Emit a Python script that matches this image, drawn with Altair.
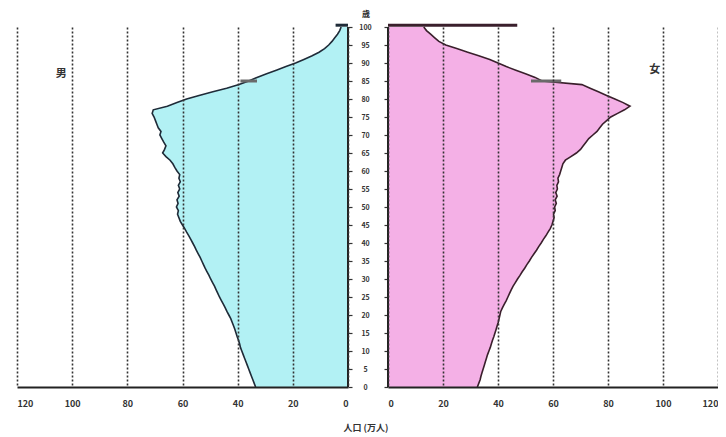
import altair as alt
import pandas as pd

# ---------------- data (population, 10k persons, by single year of age) ----------------
ages = list(range(0, 101))

male = [
    33.5, 34.0, 34.5, 35.0, 35.5, 36.0, 36.5, 37.0, 37.5, 38.0,
    38.5, 39.0, 39.3, 39.7, 40.2, 40.6, 41.0, 41.5, 42.0, 42.5,
    43.2, 43.9, 44.5, 45.2, 45.9, 46.6, 47.2, 47.8, 48.4, 49.1,
    49.8, 50.4, 51.1, 51.8, 52.4, 53.0, 53.6, 54.3, 55.0, 55.6,
    56.3, 57.0, 57.7, 58.5, 59.2, 60.0, 60.8, 61.3, 61.8, 61.5,
    62.2, 61.6, 62.0, 61.2, 61.7, 61.0, 61.5, 60.8, 61.3, 61.0,
    62.0, 62.8, 63.5, 64.5, 66.0, 67.2, 66.5, 66.0, 66.8, 67.5,
    68.2, 67.8, 68.8, 69.3, 69.8, 70.3, 71.0, 70.6, 65.5, 62.0,
    58.5, 54.0, 49.0, 44.0, 39.5, 36.0, 33.0, 29.5, 26.0, 22.5,
    19.0, 16.0, 13.0, 10.5, 8.5, 7.0, 5.8, 4.8, 3.8, 3.0,
    2.5,
]

female = [
    32.5, 33.0, 33.5, 33.8, 34.2, 34.6, 35.0, 35.4, 35.8, 36.2,
    36.7, 37.2, 37.6, 38.0, 38.5, 38.9, 39.3, 39.7, 40.1, 40.4,
    40.7, 41.0, 41.6, 42.3, 43.0, 43.6, 44.2, 44.8, 45.5, 46.3,
    47.1, 48.0, 48.8, 49.7, 50.5, 51.4, 52.2, 53.1, 54.0, 54.8,
    55.7, 56.5, 57.4, 58.2, 59.0, 59.6, 60.0, 60.4, 60.2, 60.8,
    60.6, 61.2, 60.8, 61.5, 61.0, 61.6, 61.4, 62.0, 61.8, 62.4,
    62.8, 63.2, 63.6, 64.5, 66.5, 68.5, 70.0, 71.0, 72.0, 73.0,
    74.5, 76.0, 77.0, 78.0, 79.5, 81.0, 83.5, 86.0, 88.0, 85.5,
    82.5, 79.5, 76.5, 73.5, 70.5, 56.0, 53.5, 50.0, 46.5, 43.0,
    40.0, 37.0, 33.0, 29.0, 25.0, 21.0, 18.5, 17.0, 15.5, 14.0,
    13.0,
]

male_100plus = 4.5
female_100plus = 47.0
male_85_bar = [33.0, 39.0]
female_85_bar = [52.0, 63.0]

x_ticks = [0, 20, 40, 60, 80, 100, 120]
age_ticks = list(range(0, 101, 5))

# ---------------- styling ----------------
FONT = "Noto Sans CJK JP"
CYAN = "#b2f1f4"
PINK = "#f4b0e6"
MALE_LINE = "#1f2b38"
FEMALE_LINE = "#3a1f2c"
W_L, W_R, H = 331, 330, 360

df_m = pd.DataFrame({"age": ages, "pop": male})
df_f = pd.DataFrame({"age": ages, "pop": female})

ys = alt.Scale(domain=[0, 100], nice=False, zero=False)
xs_m = alt.Scale(domain=[0, 120], reverse=True, nice=False)
xs_f = alt.Scale(domain=[0, 120], nice=False)

X_AXIS = alt.Axis(values=x_ticks, grid=True, gridDash=[2, 2], gridColor="#333",
                  gridWidth=1.6, domainColor="#222", domainWidth=2, ticks=False,
                  labelFont=FONT, labelFontSize=9, labelFontWeight="bold",
                  labelColor="#333", labelPadding=12, title=None, zindex=1)

Y_AXIS_M = alt.Axis(values=age_ticks, orient="right", grid=False, domain=False,
                    tickColor="#333", tickSize=4, tickWidth=1.2, labelOverlap=False,
                    labelFont=FONT, labelFontSize=7, labelFontWeight="bold",
                    labelColor="#333", labelAlign="center", labelPadding=13, title=None)
Y_AXIS_F = alt.Axis(values=age_ticks, orient="left", grid=False, domain=False,
                    tickColor="#333", tickSize=4, tickWidth=1.2, labels=False, title=None)


def panel(df, xs, fill, linec, y_axis, top_val, bar85, width, label, lab_pos):
    def X(f):
        return alt.X(f, scale=xs, axis=X_AXIS)

    def Y(f):
        return alt.Y(f, scale=ys, axis=y_axis)

    base = alt.Chart(df)
    area = base.mark_area(orient="horizontal", color=fill, opacity=1).encode(
        x=X("pop:Q"), y=Y("age:Q"))
    line = base.mark_line(color=linec, strokeWidth=1.6).encode(
        x=X("pop:Q"), y=Y("age:Q"), order="age:Q")
    zero = alt.Chart(pd.DataFrame({"pop": [0], "age": [0], "a1": [100]})).mark_rule(
        color="#222", strokeWidth=2
    ).encode(x=X("pop:Q"), y=Y("age:Q"), y2="a1:Q")
    top = alt.Chart(pd.DataFrame({"pop": [0], "v1": [top_val], "age": [100.5]})).mark_rule(
        color=linec, strokeWidth=3
    ).encode(x=X("pop:Q"), x2="v1:Q", y=Y("age:Q"))
    hl = alt.Chart(pd.DataFrame({"pop": [bar85[0]], "v1": [bar85[1]], "age": [85.0]})).mark_rule(
        color="#6a6a6a", strokeWidth=3
    ).encode(x=X("pop:Q"), x2="v1:Q", y=Y("age:Q"))
    lab = alt.Chart(pd.DataFrame({"t": [label], "pop": [lab_pos[0]], "age": [lab_pos[1]]})).mark_text(
        font=FONT, fontSize=11, fontWeight="bold", color="#333"
    ).encode(x=X("pop:Q"), y=Y("age:Q"), text="t:N")
    return [area, line, hl, zero, top, lab]


male_layers = panel(df_m, xs_m, CYAN, MALE_LINE, Y_AXIS_M, male_100plus, male_85_bar, W_L, "男", (104, 87))
female_layers = panel(df_f, xs_f, PINK, FEMALE_LINE, Y_AXIS_F, female_100plus, female_85_bar, W_R, "女", (97, 88))

sai = alt.Chart(pd.DataFrame({"t": ["歳"]})).mark_text(
    font=FONT, fontSize=8, fontWeight="bold", color="#222"
).encode(x=alt.value(W_L + 18), y=alt.value(-12), text="t:N")
title = alt.Chart(pd.DataFrame({"t": ["人口 (万人)"]})).mark_text(
    font=FONT, fontSize=9, fontWeight="bold", color="#333"
).encode(x=alt.value(W_L + 18), y=alt.value(H + 41), text="t:N")

left = alt.layer(*male_layers, sai, title).properties(width=W_L, height=H)
right = alt.layer(*female_layers).properties(width=W_R, height=H)

chart = alt.hconcat(left, right, spacing=40, bounds="flush").properties(
    padding={"left": 9, "top": 3, "right": 0, "bottom": 0}
).configure_view(stroke=None)

chart.save("out.html", embed_options={"renderer": "svg", "actions": False})
